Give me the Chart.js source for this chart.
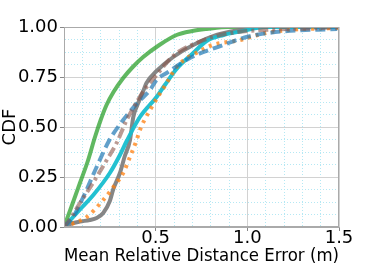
<!DOCTYPE html>
<html>
<head>
<meta charset="utf-8">
<script src="https://cdn.jsdelivr.net/npm/chart.js@4/dist/chart.umd.min.js"></script>
<style>
  html, body { margin: 0; padding: 0; background: #fff; }
  #wrap { width: 374px; height: 267px; }
</style>
</head>
<body>
<div id="wrap"><canvas id="cdf"></canvas></div>
<script>
// CDF curves (x = error in m, y = CDF)
const greenX = [0, 0.04, 0.087, 0.13, 0.169, 0.2, 0.232, 0.27, 0.323, 0.375, 0.432, 0.52, 0.614, 0.7, 0.778, 0.9, 1.5];
const greenY = [0, 0.10, 0.22, 0.33, 0.45, 0.535, 0.61, 0.675, 0.745, 0.80, 0.85, 0.91, 0.96, 0.98, 0.99, 1.0, 1.0];

const grayX = [0, 0.033, 0.087, 0.14, 0.178, 0.214, 0.25, 0.269, 0.305, 0.33, 0.36, 0.378, 0.40, 0.432, 0.45, 0.505, 0.596, 0.705, 0.832, 0.96, 1.07, 1.5];
const grayY = [0, 0.015, 0.027, 0.035, 0.045, 0.07, 0.13, 0.19, 0.27, 0.35, 0.435, 0.55, 0.61, 0.68, 0.72, 0.78, 0.85, 0.91, 0.96, 0.985, 1.0, 1.0];

const cyanX = [0, 0.05, 0.1, 0.16, 0.25, 0.305, 0.342, 0.414, 0.505, 0.55, 0.614, 0.705, 0.778, 0.87, 0.96, 1.1, 1.5];
const cyanY = [0, 0.05, 0.10, 0.16, 0.27, 0.36, 0.43, 0.55, 0.65, 0.71, 0.79, 0.87, 0.93, 0.96, 0.977, 1.0, 1.0];

const orangeX = [0, 0.05, 0.124, 0.214, 0.27, 0.323, 0.36, 0.396, 0.414, 0.469, 0.56, 0.614, 0.741, 0.81, 0.96, 1.086, 1.23, 1.5];
const orangeY = [0, 0.018, 0.05, 0.135, 0.20, 0.27, 0.35, 0.435, 0.485, 0.585, 0.72, 0.80, 0.88, 0.91, 0.935, 0.967, 0.985, 0.995];

const blueX = [0, 0.05, 0.105, 0.178, 0.245, 0.323, 0.40, 0.469, 0.505, 0.56, 0.687, 0.869, 0.995, 1.18, 1.49];
const blueY = [0, 0.05, 0.15, 0.30, 0.43, 0.535, 0.62, 0.685, 0.735, 0.77, 0.845, 0.91, 0.95, 0.977, 0.99];

const brownX = [0, 0.04, 0.087, 0.13, 0.178, 0.23, 0.287, 0.342, 0.40, 0.45, 0.505, 0.578, 0.632, 0.723, 0.81, 0.95, 1.086, 1.4, 1.5];
const brownY = [0, 0.05, 0.12, 0.18, 0.25, 0.33, 0.42, 0.535, 0.63, 0.70, 0.76, 0.84, 0.88, 0.92, 0.95, 0.975, 0.985, 0.995, 1.0];

const yTickLabels = [0, 0.25, 0.5, 0.75, 1.0];
const xTickLabels = [0.5, 1.0, 1.5];

const pts = (xs, ys) => xs.map((x, i) => ({ x, y: ys[i] }));
const isMajor = (v, list) => list.some((t) => Math.abs(t - v) < 1e-6);

const FONT = "'DejaVu Sans', sans-serif";
const MAJOR_GRID = "#d2d2d2";
const MINOR_GRID = "#b4e8f4";

const series = (data, color, dash) => ({
  data,
  borderColor: color,
  borderWidth: 4,
  borderDash: dash,
  pointRadius: 0,
  cubicInterpolationMode: "monotone",
  fill: false
});

new Chart(document.getElementById("cdf").getContext("2d"), {
  type: "line",
  data: {
    datasets: [
      series(pts(brownX, brownY), "rgba(140,86,75,0.6)", [10, 4, 3, 4]),
      series(pts(blueX, blueY), "rgba(31,119,180,0.7)", [10, 5]),
      series(pts(orangeX, orangeY), "rgba(255,127,14,0.75)", [3, 5]),
      series(pts(cyanX, cyanY), "rgba(23,190,207,0.95)", []),
      series(pts(grayX, grayY), "rgba(127,127,127,0.95)", []),
      series(pts(greenX, greenY), "rgba(44,160,44,0.75)", [])
    ]
  },
  options: {
    responsive: true,
    maintainAspectRatio: false,
    animation: false,
    layout: { padding: { top: 27, right: 35, left: 0, bottom: 0 } },
    plugins: { legend: { display: false }, tooltip: { enabled: false } },
    scales: {
      x: {
        type: "linear",
        min: 0,
        max: 1.5,
        afterFit: (scale) => { scale.height = 40; },
        afterBuildTicks: (scale) => {
          scale.ticks = [];
          for (let i = 0; i <= 15; i += 1) scale.ticks.push({ value: i / 10 });
        },
        ticks: {
          autoSkip: false,
          maxRotation: 0,
          padding: -3,
          color: "#000",
          font: { family: FONT, size: 18 },
          callback: (v) => (isMajor(v, xTickLabels) ? v.toFixed(1) : "")
        },
        grid: {
          color: (ctx) => (isMajor(ctx.tick.value, xTickLabels) ? MAJOR_GRID : MINOR_GRID),
          tickColor: (ctx) => (isMajor(ctx.tick.value, xTickLabels) ? "#888" : "rgba(0,0,0,0)"),
          tickLength: 4,
          lineWidth: 1
        },
        border: {
          color: "#aaa",
          dash: (ctx) => (ctx.tick && isMajor(ctx.tick.value, xTickLabels) ? [] : [1, 2])
        },
        title: {
          display: true,
          text: "Mean Relative Distance Error (m)",
          color: "#000",
          font: { family: FONT, size: 18 },
          padding: 0
        }
      },
      y: {
        type: "linear",
        min: 0,
        max: 1,
        afterFit: (scale) => { scale.width = 64; },
        afterBuildTicks: (scale) => {
          scale.ticks = [];
          for (let i = 0; i <= 16; i += 1) scale.ticks.push({ value: i / 16 });
        },
        ticks: {
          autoSkip: false,
          padding: 2,
          color: "#000",
          font: { family: FONT, size: 18 },
          callback: (v) => (isMajor(v, yTickLabels) ? v.toFixed(2) : "")
        },
        grid: {
          color: (ctx) => (isMajor(ctx.tick.value, yTickLabels) ? MAJOR_GRID : MINOR_GRID),
          tickColor: (ctx) => (isMajor(ctx.tick.value, yTickLabels) ? "#888" : "rgba(0,0,0,0)"),
          tickLength: 4,
          lineWidth: 1
        },
        border: {
          color: "#aaa",
          dash: (ctx) => (ctx.tick && isMajor(ctx.tick.value, yTickLabels) ? [] : [1, 2])
        },
        title: {
          display: true,
          text: "CDF",
          color: "#000",
          font: { family: FONT, size: 18 },
          padding: 0
        }
      }
    }
  },
  plugins: [{
    // box around the plot area, like the matplotlib frame
    id: "frame",
    afterDraw(chart) {
      const { ctx, chartArea: a } = chart;
      ctx.save();
      ctx.strokeStyle = "#aaa";
      ctx.lineWidth = 1;
      ctx.strokeRect(a.left + 0.5, a.top + 0.5, a.right - a.left - 1, a.bottom - a.top - 1);
      ctx.restore();
    }
  }]
});
</script>
</body>
</html>
